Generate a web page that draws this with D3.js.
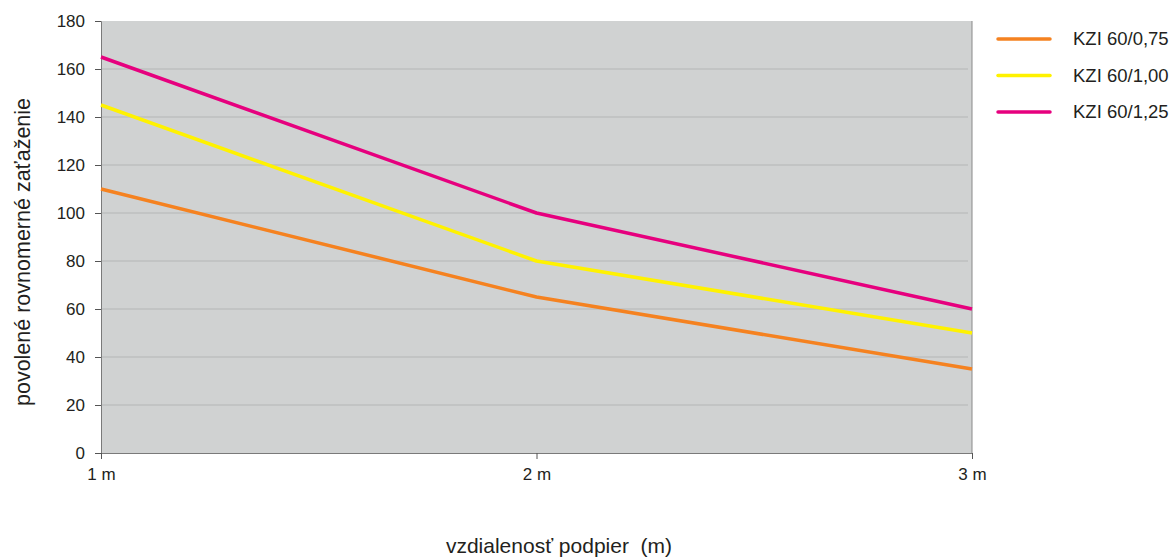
<!DOCTYPE html>
<html>
<head>
<meta charset="utf-8">
<script src="https://cdn.jsdelivr.net/npm/d3@7"></script>
<style>
  body { margin: 0; background: #fff; }
  svg { font-family: "Liberation Sans", Arial, sans-serif; }
</style>
</head>
<body>
<div id="chart"></div>
<script>
// data
const categories = ["1 m", "2 m", "3 m"];
const seriesNames = ["KZI 60/0,75", "KZI 60/1,00", "KZI 60/1,25"];
const kzi075 = [110, 65, 35];
const kzi100 = [145, 80, 50];
const kzi125 = [165, 100, 60];
const yTicks = [0, 20, 40, 60, 80, 100, 120, 140, 160, 180];
const colors = ["#f58220", "#fff200", "#e6007e"];

const series = [kzi075, kzi100, kzi125].map((values, i) => ({
    name: seriesNames[i], values, color: colors[i]
}));

const width = 1175, height = 557;
const margin = { top: 21, right: 203, bottom: 104, left: 101 };

const svg = d3.select("#chart").append("svg")
    .attr("width", width)
    .attr("height", height);

const x = d3.scalePoint()
    .domain(categories)
    .range([margin.left, width - margin.right]);

const y = d3.scaleLinear()
    .domain([0, 180])
    .range([height - margin.bottom, margin.top]);

// plot background
svg.append("rect")
    .attr("x", margin.left)
    .attr("y", margin.top)
    .attr("width", width - margin.right - margin.left)
    .attr("height", height - margin.bottom - margin.top)
    .attr("fill", "#d0d2d2");

// gridlines
svg.append("g")
    .selectAll("line")
    .data(yTicks.filter(d => d > 0 && d < 180))
    .join("line")
    .attr("x1", margin.left)
    .attr("x2", width - margin.right - 4)
    .attr("y1", d => y(d))
    .attr("y2", d => y(d))
    .attr("stroke", "#b4b5b5")
    .attr("stroke-width", 1.2);

// right border
svg.append("line")
    .attr("x1", width - margin.right).attr("x2", width - margin.right)
    .attr("y1", margin.top).attr("y2", height - margin.bottom)
    .attr("stroke", "#8a8a8a");

// y axis
const yAxis = svg.append("g")
    .attr("transform", `translate(${margin.left},0)`)
    .call(d3.axisLeft(y).tickValues(yTicks).tickSize(6).tickPadding(10));
yAxis.select(".domain").attr("stroke", "#7a7a7a");
yAxis.selectAll(".tick line").attr("stroke", "#555");
yAxis.selectAll("text").attr("font-size", 17).attr("fill", "#231f20")
    .attr("font-family", "Liberation Sans, Arial, sans-serif");

// x axis
const xAxis = svg.append("g")
    .attr("transform", `translate(0,${height - margin.bottom})`)
    .call(d3.axisBottom(x).tickSize(6).tickPadding(9));
xAxis.select(".domain").attr("stroke", "#7a7a7a");
xAxis.selectAll(".tick line").attr("stroke", "#555");
xAxis.selectAll("text").attr("font-size", 17).attr("fill", "#231f20")
    .attr("font-family", "Liberation Sans, Arial, sans-serif");

// lines
const line = d3.line()
    .x((d, i) => x(categories[i]))
    .y(d => y(d));

svg.append("g")
    .selectAll("path")
    .data(series)
    .join("path")
    .attr("fill", "none")
    .attr("stroke", d => d.color)
    .attr("stroke-width", 3.5)
    .attr("stroke-linejoin", "round")
    .attr("d", d => line(d.values));

// legend
const legend = svg.append("g")
    .selectAll("g")
    .data(series)
    .join("g")
    .attr("transform", (d, i) => `translate(998,${39 + i * 36.5})`);

legend.append("line")
    .attr("x1", 0).attr("x2", 52)
    .attr("stroke", d => d.color)
    .attr("stroke-width", 3.5)
    .attr("stroke-linecap", "round");

legend.append("text")
    .attr("x", 75)
    .attr("dy", "0.35em")
    .attr("font-size", 18.5)
    .attr("fill", "#231f20")
    .text(d => d.name);

// axis titles
svg.append("text")
    .attr("transform", `translate(30,252) rotate(-90)`)
    .attr("text-anchor", "middle")
    .attr("font-size", 21.5)
    .attr("fill", "#231f20")
    .text("povolené rovnomerné zaťaženie");

svg.append("text")
    .attr("x", 559)
    .attr("y", 553)
    .attr("text-anchor", "middle")
    .attr("font-size", 21)
    .attr("fill", "#231f20")
    .attr("xml:space", "preserve")
    .text("vzdialenosť podpier  (m)");
</script>
</body>
</html>
